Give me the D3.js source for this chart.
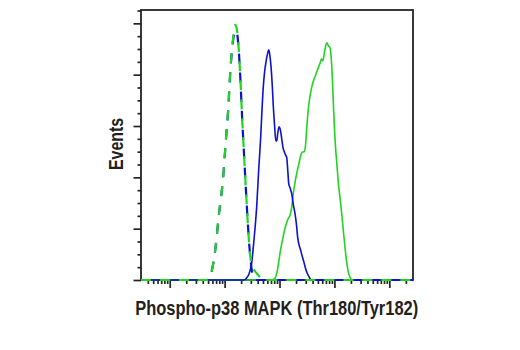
<!DOCTYPE html>
<html>
<head>
<meta charset="utf-8">
<script src="https://cdn.jsdelivr.net/npm/d3@7"></script>
<style>
  html, body { margin: 0; padding: 0; background: #fff; }
  svg { display: block; }
  text { font-family: "Liberation Sans Narrow", "Arial Narrow", "Liberation Sans", Arial, sans-serif; font-weight: bold; fill: #231f20; }
</style>
</head>
<body>
<script>
// Flow cytometry histograms: fluorescence intensity (log) vs event count.
const xMin = 30, xMax = 2.7e6;
const yMax = 1052;
const xMajorTicks = [1e2, 1e3, 1e4, 1e5, 1e6];
const yMajorTicks = [0, 200, 400, 600, 800, 1000];
const xTitle = "Phospho-p38 MAPK (Thr180/Tyr182)";
const yTitle = "Events";

// Isotype / unstained controls (dashed)
const ctrlGreenX = [30, 474, 538, 664, 786, 942, 1055, 1162, 1285, 1416, 1508, 1573, 1675, 1785, 1901, 2094, 2250, 2520, 2812, 3111, 3573, 4140, 4797, 2.7e6];
const ctrlGreenY = [0, 0, 12, 105, 253, 402, 546, 663, 830, 936, 987, 994, 975, 916, 819, 624, 495, 300, 136, 55, 35, 18, 0, 0];

const ctrlBlueX = [30, 474, 538, 664, 786, 942, 1055, 1162, 1285, 1416, 1541, 1675, 1785, 1901, 2094, 2250, 2520, 2812, 3084, 3355, 3727, 2.7e6];
const ctrlBlueY = [0, 0, 12, 105, 253, 402, 546, 663, 830, 928, 971, 963, 912, 819, 624, 495, 300, 136, 47, 8, 0, 0];

// Untreated cells (blue, solid)
const untreatedX = [30, 2250, 2520, 2776, 3111, 3426, 3838, 4176, 4543, 4797, 5066, 5352, 5675, 6047, 6387, 6719, 7007, 7369, 7718, 8118, 8570, 8942, 9247, 9808, 10358, 10987, 11606, 12257, 12891, 13560, 14202, 14749, 15578, 16736, 17900, 19228, 20480, 21362, 22750, 24232, 25810, 27490, 29280, 31850, 34650, 37700, 2.7e6];
const untreatedY = [0, 0, 8, 23, 66, 156, 285, 429, 558, 663, 753, 811, 850, 881, 897, 870, 831, 760, 675, 604, 542, 542, 569, 597, 585, 550, 515, 499, 487, 476, 421, 374, 359, 335, 292, 257, 211, 168, 136, 117, 94, 74, 51, 27, 12, 0, 0];

// Treated cells (green, solid)
const treatedX = [30, 7307, 8289, 9016, 9603, 10447, 11462, 12363, 13446, 14322, 15578, 16596, 17900, 19228, 20654, 22280, 24232, 25810, 28080, 29660, 31200, 32940, 35100, 37700, 41530, 45550, 50600, 55050, 58160, 61160, 64050, 66520, 69970, 73280, 77720, 83130, 87440, 91960, 95920, 100460, 105650, 111110, 118900, 127700, 137200, 146700, 157600, 169300, 181000, 194500, 211500, 2.7e6];
const treatedY = [0, 0, 8, 31, 66, 117, 160, 195, 222, 238, 253, 281, 339, 382, 417, 448, 483, 499, 499, 522, 585, 651, 702, 741, 776, 799, 827, 846, 862, 854, 870, 893, 916, 924, 912, 905, 866, 780, 682, 585, 507, 448, 370, 312, 250, 183, 117, 62, 27, 8, 0, 0];

const W = 520, H = 350;
const plot = { left: 141, right: 413, top: 10, bottom: 280 };
const ink = "#262324";
const blue = "#0c12c9";
const green = "#22d322";

const svg = d3.select("body").append("svg").attr("width", W).attr("height", H);

const x = d3.scaleLog().domain([xMin, xMax]).range([plot.left, plot.right]);
const y = d3.scaleLinear().domain([0, yMax]).range([plot.bottom, plot.top]);

// minor ticks: 2..9 within each decade, and quarter steps on the count axis
const xMinorTicks = [];
for (let e = 1; e <= 6; e++) {
  for (let k = 2; k <= 9; k++) {
    const v = k * Math.pow(10, e);
    if (v > xMin && v < xMax) xMinorTicks.push(v);
  }
}
const yMinorTicks = d3.range(0, yMax, 50).filter(v => v % 200 !== 0);

function drawAxis(gen, values, size, translate) {
  const g = svg.append("g").attr("transform", translate)
    .call(gen.tickValues(values).tickSize(size).tickSizeOuter(0).tickFormat(""));
  g.select(".domain").remove();
  g.selectAll(".tick line").attr("stroke", ink).attr("stroke-width", 1.7);
  return g;
}

drawAxis(d3.axisBottom(x), xMinorTicks, 4, `translate(0,${plot.bottom})`);
drawAxis(d3.axisBottom(x), xMajorTicks, 8, `translate(0,${plot.bottom})`);
drawAxis(d3.axisLeft(y), yMinorTicks, 3.5, `translate(${plot.left},0)`);
drawAxis(d3.axisLeft(y), yMajorTicks, 7.5, `translate(${plot.left},0)`);

// frame
svg.append("rect")
  .attr("x", plot.left).attr("y", plot.top)
  .attr("width", plot.right - plot.left).attr("height", plot.bottom - plot.top)
  .attr("fill", "none").attr("stroke", ink).attr("stroke-width", 1.8);

const line = d3.line().x(d => x(d[0])).y(d => y(d[1])).curve(d3.curveMonotoneX);
const pairs = (xs, ys) => xs.map((v, i) => [v, ys[i]]);

const series = [
  { xs: treatedX, ys: treatedY, color: green, dash: null, width: 1.6 },
  { xs: untreatedX, ys: untreatedY, color: blue, dash: null, width: 1.6 },
  { xs: ctrlBlueX, ys: ctrlBlueY, color: blue, dash: "10,9", width: 2.2 },
  { xs: ctrlGreenX, ys: ctrlGreenY, color: green, dash: "10,9", width: 2.2 }
];

svg.append("g").selectAll("path").data(series).join("path")
  .attr("d", s => line(pairs(s.xs, s.ys)))
  .attr("fill", "none")
  .attr("stroke", s => s.color)
  .attr("stroke-width", s => s.width)
  .attr("stroke-dasharray", s => s.dash)
  .attr("stroke-linejoin", "round");

// axis titles
svg.append("text")
  .attr("x", 276.7).attr("y", 314.5)
  .attr("text-anchor", "middle")
  .attr("font-size", 20.5)
  .attr("textLength", 283).attr("lengthAdjust", "spacingAndGlyphs")
  .text(xTitle);

svg.append("text")
  .attr("transform", "translate(123,144) rotate(-90)")
  .attr("text-anchor", "middle")
  .attr("font-size", 21)
  .attr("textLength", 52).attr("lengthAdjust", "spacingAndGlyphs")
  .text(yTitle);
</script>
</body>
</html>
